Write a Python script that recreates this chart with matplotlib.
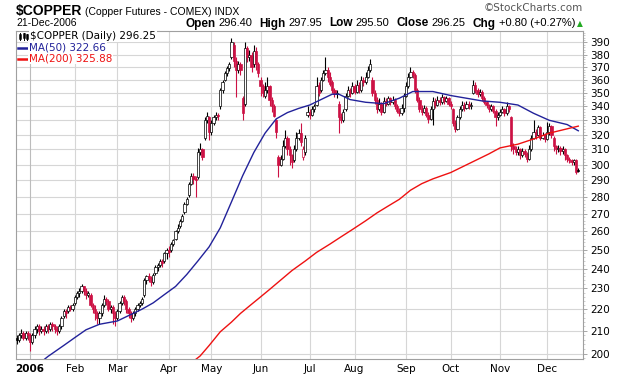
import matplotlib
matplotlib.use("Agg")
import matplotlib.pyplot as plt
from matplotlib.ticker import FixedLocator, FixedFormatter, NullFormatter
from matplotlib.lines import Line2D
import numpy as np

W, H = 620, 376

# bar index 0 = first session of 2006, six late-Dec-2005 bars before it
first_bar = -6

opens = [207, 206, 208, 209, 207, 209, 208, 205, 208, 211,
         212, 210, 211, 210, 212, 211, 213, 212, 211, 210,
         212, 217, 219, 219, 221, 220, 223, 226, 228, 229,
         231, 229, 227, 227, 222, 220, 218, 216, 218, 222,
         225, 224, 220, 221, 218, 216, 219, 223, 226, 224,
         220, 218, 216, 218, 220, 222, 223, 227, 234, 236,
         235, 233, 238, 241, 242, 244, 244, 248, 250, 250,
         253, 256, 260, 263, 266, 271, 276, 281, 288, 293,
         291, 292, 308, 310, 318, 330, 332, 322, 328, 332,
         334, 340, 352, 360, 365, 369, 378, 388, 375, 368,
         372, 346, 342, 385, 378, 380, 372, 383, 372, 360,
         355, 348, 352, 355, 345, 340, 330, 305, 300, 304,
         312, 318, 310, 306, 303, 310, 318, 321, 305, 308,
         334, 336, 334, 338, 341, 356, 352, 360, 365, 368,
         362, 358, 352, 349, 342, 332, 330, 338, 348, 352,
         350, 355, 351, 356, 352, 360, 358, 362, 368, 360,
         350, 345, 338, 342, 336, 344, 342, 346, 343, 345,
         340, 337, 335, 339, 348, 355, 362, 366, 364, 352,
         345, 338, 336, 339, 334, 331, 338, 344, 341, 345,
         343, 347, 344, 346, 342, 338, 328, 324, 332, 338,
         341, 339, 342, 340, 350, 356, 352, 349, 351, 346,
         343, 341, 338, 340, 337, 332, 334, 336, 338, 335,
         340, 332, 312, 310, 308, 310, 306, 309, 307, 304,
         310, 318, 322, 320, 325, 318, 320, 317, 322, 326,
         318, 312, 310, 311, 309, 310, 306, 304, 303, 302,
         303, 296.40]

highs = [208, 209, 211, 210, 210, 210, 209, 209, 212, 213,
         213, 212, 212, 213, 213, 214, 214, 213, 212, 213,
         217, 220, 220, 222, 222, 223, 227, 229, 230, 232,
         231, 230, 229, 228, 223, 222, 219, 219, 223, 227,
         226, 225, 222, 222, 219, 220, 224, 227, 227, 225,
         221, 219, 219, 221, 223, 224, 226, 235, 237, 238,
         236, 238, 242, 243, 245, 245, 249, 251, 252, 254,
         256, 261, 264, 267, 270, 277, 280, 289, 295, 295,
         293, 311, 314, 311, 332, 336, 333, 330, 334, 336,
         335, 354, 360, 367, 371, 374, 394, 390, 378, 375,
         374, 348, 390, 387, 384, 382, 388, 386, 374, 362,
         357, 358, 362, 356, 347, 342, 331, 306, 306, 316,
         323, 319, 312, 307, 313, 322, 324, 328, 312, 320,
         340, 338, 340, 342, 362, 358, 362, 368, 378, 370,
         366, 360, 354, 352, 344, 335, 338, 350, 355, 354,
         358, 357, 360, 358, 363, 362, 366, 371, 376, 362,
         352, 347, 346, 343, 347, 346, 348, 347, 348, 346,
         342, 339, 342, 350, 358, 365, 370, 368, 365, 354,
         347, 341, 341, 340, 336, 340, 347, 346, 348, 347,
         349, 348, 348, 347, 344, 339, 330, 334, 340, 344,
         343, 344, 344, 343, 360, 358, 354, 353, 352, 348,
         344, 342, 342, 341, 338, 336, 338, 340, 339, 343,
         341, 333, 314, 312, 312, 311, 311, 310, 308, 313,
         320, 330, 324, 327, 326, 322, 321, 329, 328, 327,
         319, 313, 313, 312, 312, 311, 307, 305, 304, 304,
         304, 297.95]

lows = [204, 205, 207, 206, 206, 206, 201, 204, 207, 209,
        208, 209, 208, 209, 209, 210, 210, 209, 208, 209,
        211, 216, 216, 218, 219, 219, 222, 225, 226, 228,
        227, 225, 226, 221, 218, 215, 213, 213, 217, 221,
        222, 219, 218, 213, 212, 215, 218, 222, 222, 218,
        216, 214, 215, 217, 219, 221, 222, 226, 232, 233,
        231, 232, 237, 239, 241, 241, 243, 245, 246, 249,
        252, 255, 259, 262, 265, 270, 275, 280, 287, 288,
        280, 291, 306, 303, 316, 328, 316, 320, 327, 330,
        330, 338, 350, 359, 363, 367, 376, 370, 347, 365,
        364, 330, 340, 374, 375, 366, 370, 368, 362, 348,
        347, 346, 350, 340, 336, 332, 318, 292, 299, 303,
        311, 306, 300, 298, 302, 309, 316, 312, 303, 306,
        332, 331, 333, 336, 340, 348, 351, 359, 364, 358,
        355, 350, 347, 346, 321, 328, 329, 337, 347, 347,
        349, 349, 350, 350, 351, 355, 357, 361, 366, 348,
        342, 335, 337, 334, 335, 340, 341, 341, 342, 338,
        335, 333, 334, 336, 347, 354, 361, 361, 350, 343,
        336, 334, 335, 332, 328, 330, 327, 339, 340, 341,
        342, 342, 343, 340, 338, 326, 322, 323, 331, 337,
        337, 338, 338, 338, 349, 350, 347, 348, 344, 342,
        339, 336, 337, 335, 326, 330, 333, 335, 333, 334,
        336, 309, 307, 306, 306, 304, 305, 305, 302, 303,
        309, 317, 317, 319, 316, 317, 315, 316, 320, 318,
        309, 307, 308, 306, 307, 303, 302, 301, 300, 300,
        294, 295.50]

closes = [206, 208, 209, 207, 209, 208, 205, 208, 211, 212,
          210, 211, 210, 212, 211, 213, 212, 211, 210, 212,
          216, 219, 218, 221, 220, 222, 226, 228, 229, 231,
          229, 227, 228, 222, 220, 218, 216, 218, 222, 225,
          224, 220, 221, 218, 216, 219, 223, 226, 224, 220,
          218, 216, 218, 220, 222, 223, 225, 234, 236, 235,
          233, 237, 241, 242, 244, 243, 248, 250, 249, 253,
          255, 260, 262, 266, 269, 276, 279, 288, 293, 291,
          290, 308, 310, 305, 330, 333, 322, 328, 332, 334,
          333, 352, 358, 365, 369, 372, 390, 375, 368, 372,
          368, 335, 385, 378, 380, 370, 383, 372, 365, 355,
          350, 352, 355, 345, 340, 333, 322, 300, 304, 312,
          318, 310, 306, 302, 310, 318, 321, 315, 310, 318,
          336, 334, 338, 340, 355, 350, 360, 365, 368, 362,
          357, 352, 349, 350, 332, 330, 336, 348, 352, 350,
          355, 351, 356, 352, 360, 358, 362, 368, 372, 350,
          345, 338, 342, 336, 344, 342, 346, 343, 345, 340,
          337, 335, 339, 348, 355, 362, 366, 364, 352, 345,
          338, 336, 339, 334, 331, 338, 344, 341, 345, 343,
          347, 344, 346, 342, 340, 328, 324, 332, 338, 341,
          339, 342, 340, 341, 356, 352, 349, 351, 346, 343,
          341, 338, 340, 337, 332, 334, 336, 338, 335, 340,
          338, 312, 310, 308, 310, 306, 309, 307, 304, 310,
          318, 322, 320, 325, 318, 320, 317, 322, 326, 320,
          312, 310, 311, 309, 310, 306, 304, 303, 302, 303,
          295.45, 296.25]

ma50_idx = [5, 8, 15, 20, 25, 31, 39, 45, 50, 55, 60, 65, 70, 75, 80,
            85, 90, 95, 100, 105, 110, 115, 120, 125, 130, 135, 138,
            143, 150, 158, 165, 171, 180, 188, 195, 202, 210, 218, 225,
            232, 240, 245]
ma50_val = [196.5, 198.8, 203.5, 207, 210.5, 213, 214.5, 217.5, 220, 223,
            227, 231, 237, 244, 251.5, 262, 277, 293, 308, 321, 331, 335.5,
            338.5, 341, 345, 349, 349, 345, 343, 342, 346, 351, 351, 348,
            346, 344, 343, 341, 335, 330, 327, 322.66]

ma200_idx = [74, 76, 80, 85, 90, 94, 98, 102, 107, 112, 117, 123, 128, 134,
             139, 144, 150, 155, 160, 165, 170, 175, 180, 188, 198, 205,
             210, 218, 225, 232, 240, 245]
ma200_val = [197.5, 199, 203.5, 209.6, 214, 218, 221.5, 225, 229.5, 234.2,
             239, 244, 248.5, 253, 257, 261, 266, 270.5, 274.5, 278.5, 284,
             288, 291, 295, 302, 307, 311, 313.5, 317, 321, 324, 325.88]

month_idx = [0, 20, 39, 62, 81, 103, 125, 145, 168, 188, 210, 231]
month_lbl = ["2006", "Feb", "Mar", "Apr", "May", "Jun", "Jul", "Aug",
             "Sep", "Oct", "Nov", "Dec"]
price_ticks = [200, 210, 220, 230, 240, 250, 260, 270, 280, 290,
               300, 310, 320, 330, 340, 350, 360, 370, 380, 390]

RED = "#cc1144"
BLUE = "#22229a"
MARED = "#ee1111"
GRID = "#d6d6d6"

fig = plt.figure(figsize=(W / 100, H / 100), dpi=100)
ax = fig.add_axes([16 / W, 1 - 359 / H, (583 - 16) / W, (359 - 31) / H])
ax.set_yscale("log")
ax.set_xlim(-6.3, 247.1)
ax.set_ylim(197.7, 399.7)

# grid
for p in price_ticks:
    ax.axhline(p, color=GRID, lw=0.8, zorder=0)
for i, m in enumerate(month_idx):
    ax.axvline(m, color="#bcbcbc" if i == 0 else GRID, lw=0.8, zorder=0)

# candles
x = np.arange(first_bar, first_bar + len(closes))
o = np.array(opens, float)
h = np.array(highs, float)
l = np.array(lows, float)
c = np.array(closes, float)
prev = np.r_[c[0], c[:-1]]
cols = [RED if cc < pc else "black" for cc, pc in zip(c, prev)]
ax.vlines(x, l, h, colors=cols, lw=0.8, zorder=2)
lo = np.minimum(o, c)
hi = np.maximum(o, c)
hi = np.maximum(hi, lo * 1.0015)
face = ["white" if cc > oo else col for cc, oo, col in zip(c, o, cols)]
ax.bar(x, hi - lo, bottom=lo, width=1.0, color=face, edgecolor=cols,
       linewidth=0.5, zorder=3)

# moving averages
ax.plot(ma50_idx, ma50_val, color=BLUE, lw=1.0, zorder=4)
ax.plot(ma200_idx, ma200_val, color=MARED, lw=1.0, zorder=4)

# axes styling
for s in ax.spines.values():
    s.set_color("#a0a0a0")
    s.set_linewidth(0.8)
ax.yaxis.set_major_locator(FixedLocator(price_ticks))
ax.yaxis.set_minor_locator(FixedLocator(list(range(198, 400, 2))))
ax.yaxis.set_major_formatter(FixedFormatter([str(p) for p in price_ticks]))
ax.yaxis.set_minor_formatter(NullFormatter())
ax.yaxis.tick_right()
ax.tick_params(axis="y", which="major", length=3, width=0.6, color="#999999",
               pad=2, labelsize=7.5, labelcolor="black")
ax.tick_params(axis="y", which="minor", length=1.5, width=0.5, color="#bbbbbb")
ax.set_xticks(month_idx)
ax.set_xticklabels(month_lbl)
ax.tick_params(axis="x", length=0, pad=3.5, labelsize=7.5)
for lab in ax.get_yticklabels() + ax.get_xticklabels():
    lab.set_family("DejaVu Sans")
ax.get_xticklabels()[0].set_fontweight("bold")


def fx(px):
    return px / W


def fy(py):
    return 1 - py / H


r = fig.canvas.get_renderer()

# title row: symbol, then description right after it
t_sym = fig.text(fx(16), fy(15), "$COPPER", fontsize=10, fontweight="bold",
                 family="Liberation Sans", va="baseline", ha="left")
sym_w = t_sym.get_window_extent(r).width
fig.text(fx(16 + sym_w + 3), fy(15), "(Copper Futures - COMEX) INDX",
         fontsize=7.5, family="Liberation Sans", va="baseline", ha="left")
fig.text(fx(16), fy(23.5), "21-Dec-2006", fontsize=7.5,
         family="Liberation Sans", va="center", ha="left")
fig.text(fx(583), fy(8), "\u00a9StockCharts.com", fontsize=7.5, color="#555555",
         family="DejaVu Sans", va="center", ha="right")

# quote row, right-aligned to the plot edge
pieces = [("Open", True, "black", 3), ("296.40", False, "black", 7),
          ("High", True, "black", 3), ("297.95", False, "black", 7),
          ("Low", True, "black", 3), ("295.50", False, "black", 7),
          ("Close", True, "black", 3), ("296.25", False, "black", 7),
          ("Chg", True, "black", 3), ("+0.80 (+0.27%)", False, "black", 2),
          ("\u25b2", False, "#22aa22", 0)]
objs = []
for s, b, col, gap in pieces:
    t = fig.text(0, fy(23.5), s, fontsize=8.5 if b else 8,
                 fontweight="bold" if b else "normal", color=col,
                 family="Liberation Sans" if s != "\u25b2" else "DejaVu Sans",
                 va="center", ha="left")
    if s == "\u25b2":
        t.set_fontsize(5.5)
    objs.append((t, gap))
widths = [t.get_window_extent(r).width + g for t, g in objs]
xpos = 583 - sum(widths)
for (t, g), wdt in zip(objs, widths):
    t.set_x(fx(xpos))
    xpos += wdt

# legend block in the top-left corner of the plot
leg_kw = dict(fontsize=7.5, family="DejaVu Sans", va="center", ha="left",
              bbox=dict(facecolor="white", edgecolor="none", pad=0.6))
fig.text(fx(30), fy(36), "$COPPER (Daily) 296.25", color="black", **leg_kw)
fig.text(fx(29), fy(47.5), "MA(50) 322.66", color=BLUE, **leg_kw)
fig.text(fx(29), fy(58.5), "MA(200) 325.88", color=MARED, **leg_kw)
fig.add_artist(Line2D([fx(18), fx(28)], [fy(47.5), fy(47.5)], color=BLUE, lw=1.8))
fig.add_artist(Line2D([fx(18), fx(28)], [fy(58.5), fy(58.5)], color=MARED, lw=1.8))
# tiny candle glyph
for gx, y0, y1, b0, b1 in [(20, 33, 40, 35, 38), (23.5, 32.5, 39.5, 34, 37), (26.5, 34, 40, 35, 38)]:
    fig.add_artist(Line2D([fx(gx), fx(gx)], [fy(y0), fy(y1)], color="black", lw=0.7))
    fig.add_artist(Line2D([fx(gx), fx(gx)], [fy(b0), fy(b1)], color="black", lw=1.8))

fig.savefig("out.png", dpi=100)
